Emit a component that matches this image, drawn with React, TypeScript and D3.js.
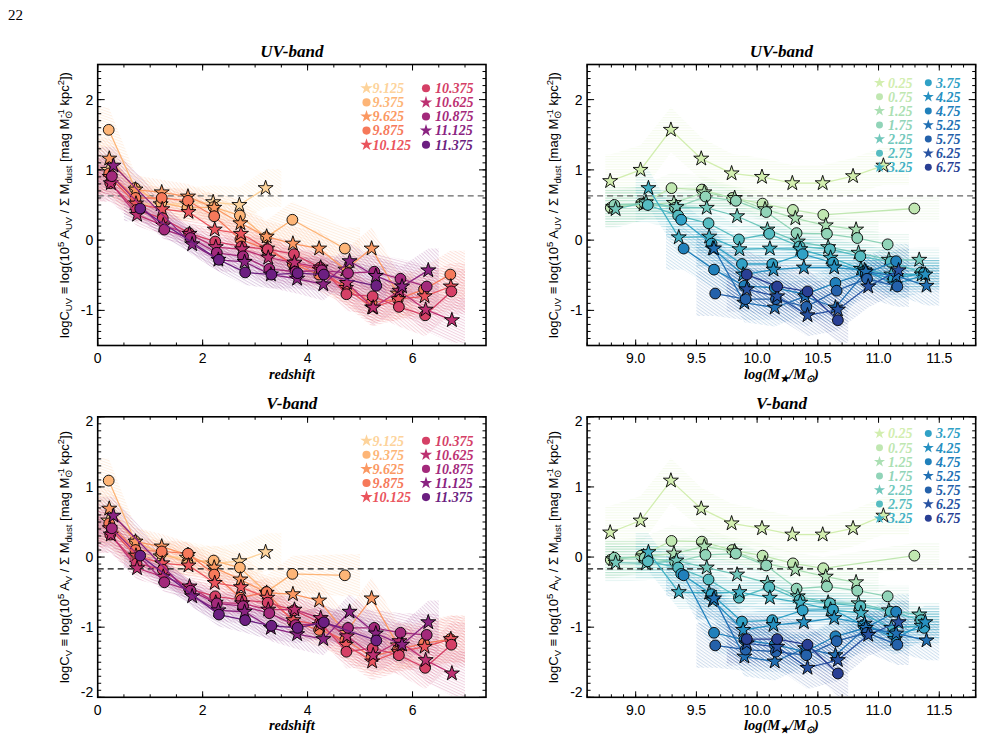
import React from "react";
import * as d3 from "d3";

// ---- binning -------------------------------------------------------------
const massBins = [8.875, 9.125, 9.375, 9.625, 9.875, 10.125, 10.375, 10.625, 10.875, 11.125, 11.375];
const massLabels = ["8.875", "9.125", "9.375", "9.625", "9.875", "10.125", "10.375", "10.625", "10.875", "11.125", "11.375"];
const zBins = [0.25, 0.75, 1.25, 1.75, 2.25, 2.75, 3.25, 3.75, 4.25, 4.75, 5.25, 5.75, 6.25, 6.75];
const zLabels = ["0.25", "0.75", "1.25", "1.75", "2.25", "2.75", "3.25", "3.75", "4.25", "4.75", "5.25", "5.75", "6.25", "6.75"];

// median redshift of each mass bin, relative to the redshift-bin centre
const zMedianShift = [-0.05, -0.05, -0.04, -0.03, -0.03, -0.02, -0.01, 0.0, 0.02, 0.05, 0.06];
// median stellar mass of each redshift bin, relative to the mass-bin centre
const massMedianShift = [-0.085, -0.08, -0.06, -0.05, -0.04, -0.025, -0.02, 0.0, 0.01, 0.02, 0.02, 0.03, 0.04, 0.04];

// ---- log C_UV per mass bin (one entry per redshift bin) -------------------
const uv8875 = [0.84, 0.46, 0.47, 0.5, 0.44, null, null, null, null, null, null, null, null, null];
const uv9125 = [1.0, 0.52, 0.51, 0.52, 0.54, 0.5, 0.74, null, null, null, null, null, null, null];
const uv9375 = [1.57, 0.74, 0.53, 0.46, 0.47, 0.35, 0.04, 0.29, null, -0.12, null, null, null, null];
const uv9625 = [1.16, 0.72, 0.68, 0.62, 0.46, 0.24, 0.05, -0.05, -0.12, -0.42, -0.12, -0.76, null, null];
const uv9875 = [0.95, 0.6, 0.6, 0.56, 0.34, 0.01, -0.13, -0.34, -0.49, -0.65, -0.89, -0.84, -0.7, -0.49];
const uv10125 = [0.9, 0.52, 0.44, 0.4, 0.15, 0.09, -0.12, -0.34, -0.42, -0.68, -0.96, -0.84, -0.8, -0.66];
const uv10375 = [0.81, 0.43, 0.31, 0.1, -0.02, -0.09, -0.13, -0.2, -0.39, -0.77, -0.8, -0.95, -1.07, -0.73];
const uv10625 = [0.81, 0.36, 0.21, 0.09, -0.1, -0.13, -0.25, -0.32, -0.39, -0.61, -0.96, -0.72, -0.99, -1.14];
const uv10875 = [0.91, null, 0.15, 0.03, -0.18, -0.23, -0.41, -0.45, -0.43, -0.47, -0.45, -0.55, -0.66, null];
const uv11125 = [1.06, null, null, -0.06, -0.28, -0.31, -0.49, -0.55, -0.63, -0.3, -0.51, -0.66, -0.43, null];
const uv11375 = [null, 0.45, null, null, -0.28, -0.46, -0.49, -0.47, -0.49, null, -0.65, null, null, null];

// ---- log C_V per mass bin (one entry per redshift bin) --------------------
const v8875 = [0.35, -0.04, -0.03, -0.01, -0.08, null, null, null, null, null, null, null, null, null];
const v9125 = [0.52, 0.02, 0.01, -0.01, -0.09, -0.06, 0.07, null, null, null, null, null, null, null];
const v9375 = [1.09, 0.23, 0.05, -0.07, -0.05, -0.15, -0.5, -0.24, null, -0.26, null, null, null, null];
const v9625 = [0.69, 0.22, 0.15, 0.03, -0.15, -0.32, -0.51, -0.53, -0.62, -1.08, -0.59, -1.26, null, null];
const v9875 = [0.48, 0.1, 0.08, 0.05, -0.25, -0.58, -0.5, -0.92, -1.04, -1.18, -1.42, -1.32, -1.23, -1.17];
const v10125 = [0.41, 0.02, -0.09, -0.12, -0.37, -0.43, -0.58, -0.9, -0.97, -1.25, -1.49, -1.35, -1.28, -1.17];
const v10375 = [0.32, -0.09, -0.18, -0.45, -0.56, -0.61, -0.65, -0.76, -0.93, -1.35, -1.3, -1.4, -1.58, -1.25];
const v10625 = [0.32, -0.16, -0.28, -0.42, -0.65, -0.66, -0.75, -0.75, -0.87, -1.13, -1.4, -1.2, -1.47, -1.66];
const v10875 = [0.41, null, -0.36, -0.48, -0.66, -0.7, -0.8, -0.97, -0.95, -1.01, -1.01, -1.08, -1.11, null];
const v11125 = [0.59, null, null, -0.56, -0.76, -0.78, -1.01, -1.1, -1.17, -0.78, -1.09, -1.25, -0.93, null];
const v11375 = [null, 0.02, null, null, -0.82, -0.9, -0.98, -1.01, -0.93, null, -1.19, null, null, null];

// 1-sigma half widths of the shaded bands
const errByZ = [0.2, 0.1, 0.08, 0.08, 0.09, 0.1, 0.12, 0.14, 0.16, 0.18, 0.2, 0.22, 0.24, 0.26];
const errByMass = [0.18, 0.15, 0.12, 0.1, 0.08, 0.07, 0.06, 0.06, 0.06, 0.07, 0.08];

// reference levels (dashed lines)
const refUV = 0.63;
const refV = -0.17;

const cUV = [uv8875, uv9125, uv9375, uv9625, uv9875, uv10125, uv10375, uv10625, uv10875, uv11125, uv11375];
const cV = [v8875, v9125, v9375, v9625, v9875, v10125, v10375, v10625, v10875, v11125, v11375];

// ---- styling ---------------------------------------------------------------
const massColors = ["#fde3ab", "#fdd39b", "#fdb577", "#fb9862", "#f6795a", "#ea545d", "#d54066", "#bd3172", "#a3297b", "#8a2381", "#6c1f81"];
const zColors = ["#d2eeaf", "#c0e7b1", "#abdfb3", "#91d4b8", "#72c8bc", "#56bcc1", "#41b0c4", "#30a1c6", "#2690c1", "#2080bb", "#2170b4", "#2461aa", "#2752a2", "#293f94"];

const SERIF = "'Liberation Serif','Times New Roman',Times,serif";
const SANS = "'Liberation Sans',Arial,Helvetica,sans-serif";

type Cell = number | null;
type Pt = { x: number; y: number; e: number };
type Series = { key: string; color: string; star: boolean; label: string; pts: Pt[]; lo: number; hi: number };

interface PanelSpec {
  key: string;
  left: number;
  right: number;
  top: number;
  bottom: number;
  xDomain: [number, number];
  yDomain: [number, number];
  byRedshift: boolean;
  values: Cell[][];
  band: string;
  title: string;
  ref: number;
  refColor: string;
  legendTop: number;
}

const panels: PanelSpec[] = [
  { key: "uvz", left: 97.7, right: 486, top: 64.5, bottom: 345.5, xDomain: [0, 7.4], yDomain: [-1.5, 2.5], byRedshift: true, values: cUV, band: "UV", title: "UV-band", ref: refUV, refColor: "#666", legendTop: 23.8 },
  { key: "uvm", left: 587.1, right: 975.7, top: 64.5, bottom: 345.5, xDomain: [8.6, 11.8], yDomain: [-1.5, 2.5], byRedshift: false, values: cUV, band: "UV", title: "UV-band", ref: refUV, refColor: "#666", legendTop: 18.2 },
  { key: "vz", left: 97.7, right: 486, top: 416.8, bottom: 697.3, xDomain: [0, 7.4], yDomain: [-2, 2], byRedshift: true, values: cV, band: "V", title: "V-band", ref: refV, refColor: "#111", legendTop: 23.9 },
  { key: "vm", left: 587.1, right: 975.7, top: 416.8, bottom: 697.3, xDomain: [8.6, 11.8], yDomain: [-2, 2], byRedshift: false, values: cV, band: "V", title: "V-band", ref: refV, refColor: "#111", legendTop: 16.8 },
];

function buildSeries(p: PanelSpec): Series[] {
  const out: Series[] = [];
  if (p.byRedshift) {
    // one curve per stellar-mass bin (the lowest bin is not shown)
    for (let i = 1; i < massBins.length; i++) {
      const pts: Pt[] = [];
      let first = -1;
      let last = -1;
      p.values[i].forEach((v, k) => {
        if (v === null) return;
        if (first < 0) first = k;
        last = k;
        pts.push({ x: zBins[k] + zMedianShift[i], y: v, e: errByZ[k] + errByMass[i] });
      });
      out.push({
        key: massLabels[i],
        color: massColors[i],
        star: i % 2 === 1,
        label: massLabels[i],
        pts,
        lo: zBins[first] - 0.25,
        hi: zBins[last] + 0.25,
      });
    }
  } else {
    // one curve per redshift bin
    for (let k = 0; k < zBins.length; k++) {
      const pts: Pt[] = [];
      let first = -1;
      let last = -1;
      massBins.forEach((m, i) => {
        const v = p.values[i][k];
        if (v === null) return;
        if (first < 0) first = i;
        last = i;
        pts.push({ x: m + massMedianShift[k], y: v, e: errByZ[k] + errByMass[i] });
      });
      out.push({
        key: zLabels[k],
        color: zColors[k],
        star: k % 2 === 0,
        label: zLabels[k],
        pts,
        lo: massBins[first] - 0.125,
        hi: massBins[last] + 0.125,
      });
    }
  }
  return out;
}

const starMark = d3.symbol().type(d3.symbolStar).size(70)() as string;
const circleMark = d3.symbol().type(d3.symbolCircle).size(Math.PI * 5.4 * 5.4)() as string;

function YLabel({ x, y, band }: { x: number; y: number; band: string }) {
  const s = 9.5;
  return (
    <text transform={`translate(${x},${y}) rotate(-90)`} textAnchor="middle" fontFamily={SANS} fontSize={13} fill="#000">
      {"logC"}
      <tspan dy={3} fontSize={s}>{band}</tspan>
      <tspan dy={-3}>{" \u2261 log(10"}</tspan>
      <tspan dy={-5} fontSize={s}>5</tspan>
      <tspan dy={5}>{" A"}</tspan>
      <tspan dy={3} fontSize={s}>{band}</tspan>
      <tspan dy={-3}>{" / \u03A3 M"}</tspan>
      <tspan dy={3} fontSize={s}>dust</tspan>
      <tspan dy={-3}>{" [mag M"}</tspan>
      <tspan dy={3} fontSize={s}>{"\u2299"}</tspan>
      <tspan dy={-8} dx={-7} fontSize={s}>-1</tspan>
      <tspan dy={5}>{" kpc"}</tspan>
      <tspan dy={-5} fontSize={s}>2</tspan>
      <tspan dy={5}>{"])"}</tspan>
    </text>
  );
}

function Panel({ p }: { p: PanelSpec }) {
  const xs = d3.scaleLinear().domain(p.xDomain).range([p.left, p.right]);
  const ys = d3.scaleLinear().domain(p.yDomain).range([p.bottom, p.top]);
  const series = buildSeries(p);

  const line = d3
    .line<Pt>()
    .x((d) => xs(d.x))
    .y((d) => ys(d.y));
  const area = d3
    .area<Pt>()
    .x((d) => xs(d.x))
    .y0((d) => ys(d.y - d.e))
    .y1((d) => ys(d.y + d.e));

  const bandPts = (s: Series): Pt[] => {
    if (!s.pts.length) return [];
    const a = s.pts[0];
    const b = s.pts[s.pts.length - 1];
    return [{ x: s.lo, y: a.y, e: a.e }, ...s.pts, { x: s.hi, y: b.y, e: b.e }];
  };

  const xMajor = p.byRedshift ? [0, 2, 4, 6] : d3.range(9.0, 11.51, 0.5);
  const xMinor = p.byRedshift ? d3.range(0, 7.41, 0.5) : d3.range(8.6, 11.801, 0.1);
  const yMajor = d3.range(Math.ceil(p.yDomain[0]), Math.floor(p.yDomain[1]) + 1);
  const yMinor = d3.range(p.yDomain[0], p.yDomain[1] + 1e-6, 0.1);
  const xFmt = p.byRedshift ? (v: number) => String(v) : d3.format(".1f");

  const clipId = `clip-${p.key}`;
  const midX = (p.left + p.right) / 2;
  const midY = (p.top + p.bottom) / 2;

  // legend layout
  const half = Math.ceil(series.length / 2);
  const rowH = 14.1;
  const legend = p.byRedshift
    ? { c1: 366.5 - 97.7, t1: 372.5 - 97.7, c2: 426 - 97.7, t2: 435 - 97.7, star: 48, circ: 52 }
    : { c1: 879.5 - 587.1, t1: 888 - 587.1, c2: 928.3 - 587.1, t2: 936 - 587.1, star: 38, circ: 38 };
  const legStar = d3.symbol().type(d3.symbolStar).size(legend.star)() as string;
  const legCirc = d3.symbol().type(d3.symbolCircle).size(legend.circ)() as string;

  return (
    <g>
      <defs>
        <clipPath id={clipId}>
          <rect x={p.left} y={p.top} width={p.right - p.left} height={p.bottom - p.top} />
        </clipPath>
        {series.map((s, i) => {
          const angle = p.byRedshift ? [35, 20, 50, 30, 10, 40, 25, 15, 45, 30][i % 10] : i < 9 ? 0 : 35;
          return (
            <pattern
              key={s.key}
              id={`hatch-${p.key}-${i}`}
              patternUnits="userSpaceOnUse"
              width={6}
              height={2.6}
              patternTransform={`rotate(${angle})`}
            >
              <line x1={0} y1={0.6} x2={6} y2={0.6} stroke={s.color} strokeWidth={0.45} />
            </pattern>
          );
        })}
      </defs>

      {/* uncertainty bands */}
      <g clipPath={`url(#${clipId})`}>
        {series.map((s, i) => (
          <path key={s.key} d={area(bandPts(s)) || ""} fill={`url(#hatch-${p.key}-${i})`} opacity={0.55} />
        ))}
      </g>

      {/* reference level */}
      <line x1={p.left} x2={p.right} y1={ys(p.ref)} y2={ys(p.ref)} stroke={p.refColor} strokeWidth={1.3} strokeDasharray="6,4" />

      {/* curves and markers */}
      {series.map((s) => (
        <g key={s.key}>
          <path d={line(s.pts) || ""} fill="none" stroke={s.color} strokeWidth={1.3} clipPath={`url(#${clipId})`} />
          {s.pts.map((d, j) => (
            <path
              key={j}
              d={s.star ? starMark : circleMark}
              transform={`translate(${xs(d.x)},${ys(d.y)})`}
              fill={s.color}
              stroke="#000"
              strokeWidth={0.9}
            />
          ))}
        </g>
      ))}

      {/* legend */}
      {series.map((s, i) => {
        const col = i < half ? 0 : 1;
        const row = col === 0 ? i : i - half;
        const cy = p.top + p.legendTop + row * rowH;
        const cx = p.left + (col === 0 ? legend.c1 : legend.c2);
        const tx = p.left + (col === 0 ? legend.t1 : legend.t2);
        return (
          <g key={s.key}>
            <path d={s.star ? legStar : legCirc} transform={`translate(${cx},${cy})`} fill={s.color} />
            <text x={tx} y={cy + 4.8} fontFamily={SERIF} fontStyle="italic" fontWeight="bold" fontSize={14} fill={s.color}>
              {s.label}
            </text>
          </g>
        );
      })}

      {/* ticks on all four sides */}
      <g stroke="#000" strokeWidth={1}>
        {xMinor.map((v, i) => (
          <g key={`xm${i}`}>
            <line x1={xs(v)} x2={xs(v)} y1={p.bottom} y2={p.bottom - 3} />
            <line x1={xs(v)} x2={xs(v)} y1={p.top} y2={p.top + 3} />
          </g>
        ))}
        {xMajor.map((v, i) => (
          <g key={`xM${i}`}>
            <line x1={xs(v)} x2={xs(v)} y1={p.bottom} y2={p.bottom - 6} />
            <line x1={xs(v)} x2={xs(v)} y1={p.top} y2={p.top + 6} />
          </g>
        ))}
        {yMinor.map((v, i) => (
          <g key={`ym${i}`}>
            <line x1={p.left} x2={p.left + 3.5} y1={ys(v)} y2={ys(v)} />
            <line x1={p.right} x2={p.right - 3.5} y1={ys(v)} y2={ys(v)} />
          </g>
        ))}
        {yMajor.map((v, i) => (
          <g key={`yM${i}`}>
            <line x1={p.left} x2={p.left + 7} y1={ys(v)} y2={ys(v)} />
            <line x1={p.right} x2={p.right - 7} y1={ys(v)} y2={ys(v)} />
          </g>
        ))}
      </g>

      {/* frame */}
      <rect x={p.left} y={p.top} width={p.right - p.left} height={p.bottom - p.top} fill="none" stroke="#000" strokeWidth={1.6} />

      {/* tick labels */}
      {xMajor.map((v, i) => (
        <text key={`xl${i}`} x={xs(v)} y={p.bottom + 17.5} textAnchor="middle" fontFamily={SANS} fontSize={14}>
          {xFmt(v)}
        </text>
      ))}
      {yMajor.map((v, i) => {
        const y = Math.min(Math.max(ys(v), p.top + 4), p.bottom - 5);
        return (
          <text key={`yl${i}`} x={p.left - 4.5} y={y + 5} textAnchor="end" fontFamily={SANS} fontSize={14}>
            {String(v)}
          </text>
        );
      })}

      {/* titles */}
      <text x={midX} y={p.top - 8} textAnchor="middle" fontFamily={SERIF} fontStyle="italic" fontWeight="bold" fontSize={17}>
        {p.title}
      </text>
      {p.byRedshift ? (
        <text x={midX} y={p.bottom + 33} textAnchor="middle" fontFamily={SERIF} fontStyle="italic" fontWeight="bold" fontSize={14.5}>
          redshift
        </text>
      ) : (
        <text x={midX} y={p.bottom + 33} textAnchor="middle" fontFamily={SERIF} fontStyle="italic" fontWeight="bold" fontSize={14.5}>
          {"log(M"}
          <tspan dy={3} fontSize={10}>{"\u2605"}</tspan>
          <tspan dy={-3}>{"/M"}</tspan>
          <tspan dy={3} fontSize={10}>{"\u2299"}</tspan>
          <tspan dy={-3}>{")"}</tspan>
        </text>
      )}
      <YLabel x={p.left - 28.7} y={midY} band={p.band} />
    </g>
  );
}

export default function App() {
  return (
    <svg
      width={983}
      height={743}
      viewBox="0 0 983 743"
      style={{ position: "absolute", left: 0, top: 0, background: "#fff" }}
    >
      <rect x={0} y={0} width={983} height={743} fill="#fff" />
      <text x={8} y={20} fontFamily={SERIF} fontSize={15}>
        22
      </text>
      {panels.map((p) => (
        <Panel key={p.key} p={p} />
      ))}
    </svg>
  );
}
